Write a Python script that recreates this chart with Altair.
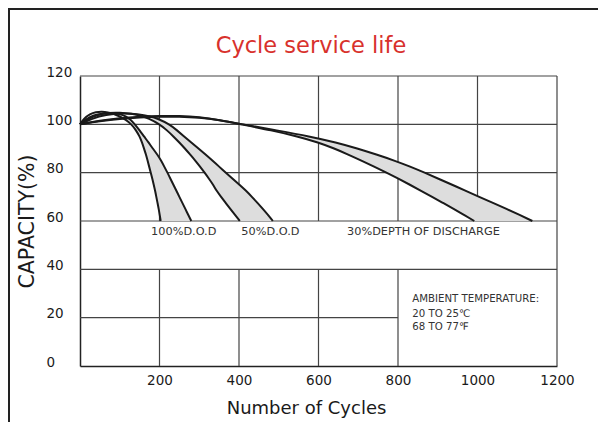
import altair as alt
import pandas as pd

# ---------------- data ----------------
x_ticks = [200, 400, 600, 800, 1000, 1200]
y_ticks = [0, 20, 40, 60, 80, 100, 120]

# capacity levels at which the falling part of the curves was read
levels = [100, 97.5, 95, 92.5, 90, 87.5, 85, 82.5, 80, 77.5, 75, 72.5, 70, 67.5, 65, 62.5, 60]
levels_50 = [102.5] + levels

# 100% D.O.D  (rise: cycles / capacity, fall: cycles at each level)
d100_in_rise_x = [0, 10, 25, 40, 55, 70, 85, 100, 115]
d100_in_rise_y = [100, 102.4, 104.3, 105.1, 105.3, 105.0, 104.3, 103.3, 101.9]
d100_in_fall = [130, 141, 150, 156, 161, 166, 170, 174, 178, 182, 185.5, 189, 192, 195, 198, 200.5, 203]
d100_out_rise_x = [0, 15, 35, 55, 80, 100, 115, 128]
d100_out_rise_y = [100, 102.2, 103.8, 104.5, 104.7, 104.3, 103.4, 101.9]
d100_out_fall = [138, 150, 161, 172.5, 183, 194.5, 204, 212, 220, 227.5, 235, 242.5, 250, 257.5, 265, 272.5, 280]

# 50% D.O.D
d50_in_rise_x = [0, 20, 45, 70, 100, 130, 155]
d50_in_rise_y = [100, 102.3, 104.0, 104.8, 104.9, 104.4, 103.5]
d50_in_fall = [172, 201, 219, 235, 250, 264, 277, 290, 302, 313.5, 324.5, 335, 343.5, 355, 366.5, 378, 390, 402]
d50_out_rise_x = [0, 30, 65, 105, 145, 180]
d50_out_rise_y = [100, 102.4, 104.0, 104.6, 104.3, 103.2]
d50_out_fall = [193, 226, 244, 262, 280, 298, 316, 333, 350, 367, 384, 401, 418, 432.5, 446.5, 460, 473, 485]

# 30% depth of discharge
d30_in_rise_x = [0, 50, 100, 150, 200, 250, 300, 350]
d30_in_rise_y = [100, 101.3, 102.3, 102.9, 103.2, 103.2, 102.8, 101.8]
d30_in_fall = [405, 482, 548, 600, 640, 675, 708, 740, 771, 801, 830, 858, 886, 913, 940, 966, 992]
d30_out_rise_x = [0, 50, 100, 150, 200, 250, 300, 350]
d30_out_rise_y = [100, 101.6, 102.6, 103.2, 103.5, 103.5, 103.0, 101.8]
d30_out_fall = [410, 495, 578, 645, 698, 746, 791, 831, 867, 902, 936, 971, 1004, 1039, 1073, 1106, 1138]

curve_labels = ["100%D.O.D", "50%D.O.D", "30%DEPTH OF DISCHARGE"]
curve_label_x = [261, 479, 864]
curve_label_y = [55.6, 55.6, 55.6]

ambient_lines = ["AMBIENT TEMPERATURE:", "20 TO 25\u2103", "68 TO 77\u2109"]
ambient_x = [836, 836, 836]
ambient_y = [27.6, 21.7, 16.2]

title_text = "Cycle service life"

# ---------------- tables ----------------
curves = [
    ("d100_in", d100_in_rise_x, d100_in_rise_y, d100_in_fall, levels),
    ("d100_out", d100_out_rise_x, d100_out_rise_y, d100_out_fall, levels),
    ("d50_in", d50_in_rise_x, d50_in_rise_y, d50_in_fall, levels_50),
    ("d50_out", d50_out_rise_x, d50_out_rise_y, d50_out_fall, levels_50),
    ("d30_in", d30_in_rise_x, d30_in_rise_y, d30_in_fall, levels),
    ("d30_out", d30_out_rise_x, d30_out_rise_y, d30_out_fall, levels),
]
rows = []
for name, rx, ry, fx, lv in curves:
    seq = 0
    for a, b in zip(rx, ry):
        rows.append({"curve": name, "cycles": a, "capacity": b, "seq": seq})
        seq += 1
    for a, b in zip(fx, lv):
        rows.append({"curve": name, "cycles": a, "capacity": b, "seq": seq})
        seq += 1
curve_df = pd.DataFrame(rows)

band_rows = []
for dod, inner, outer, lv in [("100", d100_in_fall, d100_out_fall, levels),
                              ("50", d50_in_fall, d50_out_fall, levels_50),
                              ("30", d30_in_fall, d30_out_fall, levels)]:
    for l, a, b in zip(lv, inner, outer):
        band_rows.append({"dod": dod, "capacity": l, "inner": a, "outer": b})
band_df = pd.DataFrame(band_rows)

# grid segments (built from tick values)
grid_rows = []
for v in [200, 400, 600, 800, 1000]:
    grid_rows.append({"x": v, "x2": v, "y": 60, "y2": 120})
for v in [200, 400, 600, 800]:
    grid_rows.append({"x": v, "x2": v, "y": 0, "y2": 40})
grid_rows.append({"x": 1200, "x2": 1200, "y": 0, "y2": 120})
for v in [40, 60, 80, 100, 120]:
    grid_rows.append({"x": 0, "x2": 1200, "y": v, "y2": v})
grid_rows.append({"x": 0, "x2": 800, "y": 20, "y2": 20})
grid_df = pd.DataFrame(grid_rows)

label_df = pd.DataFrame({"x": curve_label_x, "y": curve_label_y, "t": curve_labels})
amb_df = pd.DataFrame({"x": ambient_x, "y": ambient_y, "t": ambient_lines})
title_df = pd.DataFrame({"t": [title_text]})

FONT = "DejaVu Sans"
TXT = "#1a1a1a"
xs = alt.Scale(domain=[0, 1200], nice=False, zero=False)
ys = alt.Scale(domain=[0, 120], nice=False, zero=False)

xaxis = alt.Axis(values=x_ticks, format="d", grid=False, ticks=False, labelFontSize=13.5,
                 labelPadding=7, labelFlush=False, labelOverlap=False,
                 labelColor=TXT, labelFont=FONT,
                 title="Number of Cycles", titleFont=FONT, titleFontSize=18,
                 titleFontWeight="normal", titleColor=TXT,
                 titleX=226, titleY=42, titleBaseline="middle",
                 domainColor="#222", domainWidth=1.5)
yaxis = alt.Axis(values=y_ticks, grid=False, ticks=False, labelFontSize=13.5,
                 labelAlign="left", labelBaseline="alphabetic", labelPadding=34,
                 labelFlush=False, labelOverlap=False, labelColor=TXT, labelFont=FONT,
                 title="CAPACITY(%)", titleFont=FONT, titleFontSize=20.5,
                 titleFontWeight="normal", titleColor=TXT, titleAngle=-90,
                 titleX=-53, titleY=145, titleBaseline="middle", titleAlign="center",
                 domainColor="#222", domainWidth=1.5)

grid = alt.Chart(grid_df).mark_rule(color="#444", strokeWidth=1.2).encode(
    x=alt.X("x:Q", scale=xs, axis=xaxis),
    x2="x2:Q",
    y=alt.Y("y:Q", scale=ys, axis=yaxis),
    y2="y2:Q",
)

bands = alt.Chart(band_df).mark_area(orient="horizontal", interpolate="basis",
                                     color="#dddddd", opacity=1).encode(
    y=alt.Y("capacity:Q", scale=ys),
    x=alt.X("inner:Q", scale=xs),
    x2="outer:Q",
    detail="dod:N",
)

lines = alt.Chart(curve_df).mark_line(interpolate="basis", color="#1a1a1a",
                                      strokeWidth=2).encode(
    x=alt.X("cycles:Q", scale=xs),
    y=alt.Y("capacity:Q", scale=ys),
    detail="curve:N",
    order="seq:Q",
)

labels = alt.Chart(label_df).mark_text(font=FONT, fontSize=11.3, color="#333",
                                       align="center", baseline="middle").encode(
    x=alt.X("x:Q", scale=xs), y=alt.Y("y:Q", scale=ys), text="t:N")

amb = alt.Chart(amb_df).mark_text(font=FONT, fontSize=10.2, color="#333",
                                  align="left", baseline="middle").encode(
    x=alt.X("x:Q", scale=xs), y=alt.Y("y:Q", scale=ys), text="t:N")

title = alt.Chart(title_df).mark_text(font=FONT, fontSize=22.5, color="#d8312c",
                                      align="center", baseline="alphabetic").encode(
    x=alt.value(231), y=alt.value(-23), text="t:N")

border_left = alt.Chart(grid_df.head(1)).mark_rule(color="#222", strokeWidth=2).encode(
    x=alt.value(-71), y=alt.value(-68), y2=alt.value(346))
border_top = alt.Chart(grid_df.head(1)).mark_rule(color="#222", strokeWidth=2).encode(
    x=alt.value(-72), x2=alt.value(518), y=alt.value(-67))

chart = alt.layer(grid, bands, lines, labels, amb, title, border_left, border_top).properties(
    width=477, height=290,
    autosize=alt.AutoSizeParams(type="none"),
    padding={"left": 72, "top": 68, "right": 41, "bottom": 56},
).configure_view(stroke=None)

chart.save("out.html", embed_options={"renderer": "svg", "actions": False})
